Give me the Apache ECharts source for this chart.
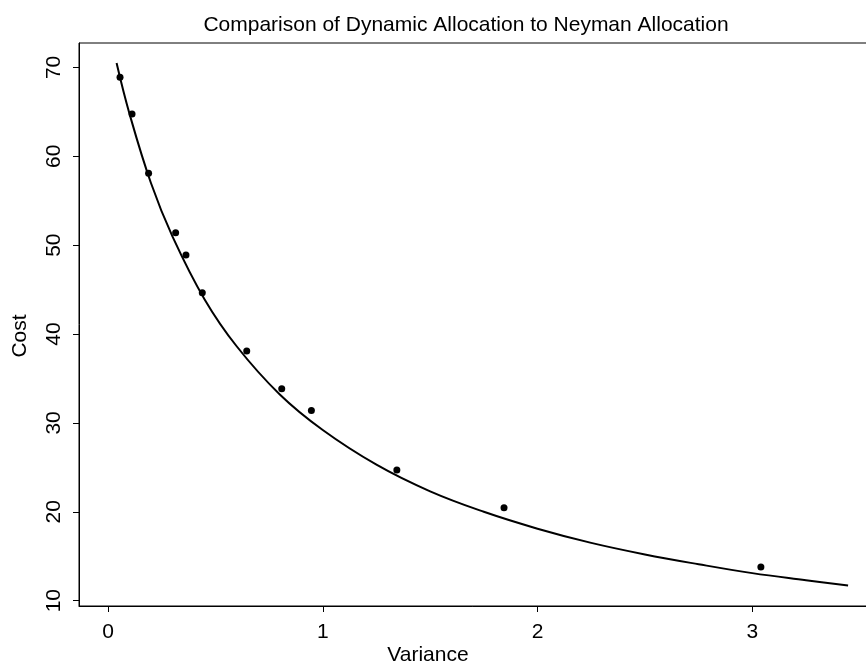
<!DOCTYPE html>
<html>
<head>
<meta charset="utf-8">
<title>Dynamic vs Neyman Allocation</title>
<script src="https://cdn.jsdelivr.net/npm/echarts@6/dist/echarts.min.js"></script>
<style>
  html, body { margin: 0; padding: 0; background: #fff; }
  #chart { width: 866px; height: 664px; }
</style>
</head>
<body>
<div id="chart"></div>
<script>
// observed points (variance, cost)
var pointVariance = [0.056, 0.112, 0.189, 0.315, 0.363, 0.439, 0.646, 0.809, 0.947, 1.345, 1.844, 3.04]
var pointCost = [68.9, 64.75, 58.1, 51.4, 48.9, 44.65, 38.1, 33.85, 31.4, 24.7, 20.45, 13.8]

// fitted curve
var curveVariance = [0.04, 0.1, 0.2, 0.3, 0.45, 0.6, 0.8, 1.0, 1.25, 1.5, 1.75, 2.0, 2.25, 2.5, 2.75, 3.0, 3.25, 3.446]
var curveCost = [70.5, 64.8, 57.0, 51.0, 43.9, 38.6, 33.2, 29.2, 25.3, 22.3, 20.0, 18.1, 16.5, 15.2, 14.1, 13.1, 12.3, 11.7]

var xTicks = [0, 1, 2, 3]
var yTicks = [10, 20, 30, 40, 50, 60, 70]

var font = "'Liberation Sans', Arial, Helvetica, sans-serif"

var chart = echarts.init(document.getElementById('chart'))

chart.setOption({
  backgroundColor: '#fff',
  animation: false,
  grid: {
    left: 79,
    top: 43,
    bottom: 58,
    right: -13,
    show: true,
    borderColor: '#000',
    borderWidth: 1,
    outerBoundsMode: 'none'
  },
  xAxis: {
    type: 'value',
    min: -0.135,
    max: 3.59,
    axisLine: { show: true, onZero: false, lineStyle: { color: '#000', width: 1 } },
    axisTick: { show: true, customValues: xTicks, length: 6, lineStyle: { color: '#000' } },
    axisLabel: { customValues: xTicks, color: '#000', fontSize: 21, fontFamily: font, margin: 16 },
    splitLine: { show: false }
  },
  yAxis: {
    type: 'value',
    min: 9.4,
    max: 72.75,
    axisLine: { show: true, onZero: false, lineStyle: { color: '#000', width: 1 } },
    axisTick: { show: true, customValues: yTicks, length: 6, lineStyle: { color: '#000' } },
    axisLabel: { customValues: yTicks, color: '#000', fontSize: 21, fontFamily: font, rotate: 90, margin: 14 },
    splitLine: { show: false }
  },
  graphic: [
    {
      type: 'text', x: 466, y: 25,
      style: { text: 'Comparison of Dynamic Allocation to Neyman Allocation', fill: '#000', font: '21px ' + font, textAlign: 'center', textVerticalAlign: 'middle' }
    },
    {
      type: 'text', x: 428, y: 655,
      style: { text: 'Variance', fill: '#000', font: '21px ' + font, textAlign: 'center', textVerticalAlign: 'middle' }
    },
    {
      type: 'text', x: 20, y: 336, rotation: Math.PI / 2,
      style: { text: 'Cost', fill: '#000', font: '21px ' + font, textAlign: 'center', textVerticalAlign: 'middle' }
    }
  ],
  series: [
    {
      type: 'line',
      data: curveVariance.map(function (v, i) { return [v, curveCost[i]] }),
      smooth: 0.4,
      showSymbol: false,
      lineStyle: { color: '#000', width: 2 },
      silent: true
    },
    {
      type: 'scatter',
      data: pointVariance.map(function (v, i) { return [v, pointCost[i]] }),
      symbol: 'circle',
      symbolSize: 7,
      itemStyle: { color: '#000', opacity: 1 },
      silent: true
    }
  ]
})
</script>
</body>
</html>
